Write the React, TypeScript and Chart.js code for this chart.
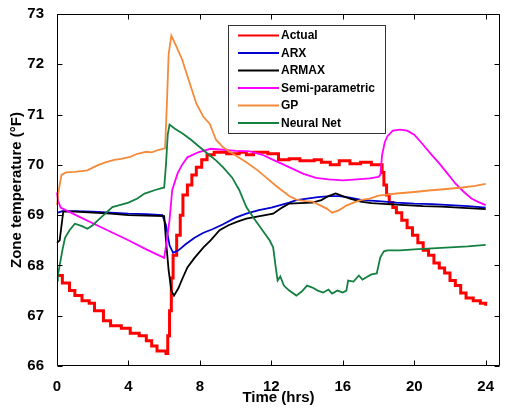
import React, { useEffect, useRef } from "react";
import { Chart, registerables } from "chart.js";

Chart.register(...registerables);

// Time axis (hours) and zone temperature (°F) for each model
const actualT = [0, 0.3, 0.7, 1.0, 1.4, 1.8, 2.1, 2.6, 3.0, 3.6, 4.1, 4.6, 5.0, 5.3, 5.6, 6.1, 6.2, 6.3, 6.4, 6.5, 6.7, 6.9, 7.05, 7.3, 7.55, 7.8, 8.1, 8.4, 8.8, 9.5, 10.2, 10.6, 11.0, 11.8, 12.4, 13.0, 13.6, 14.4, 14.8, 15.3, 15.8, 16.4, 17.0, 17.6, 18.2, 18.3, 18.45, 18.6, 18.8, 19.0, 19.3, 19.6, 19.9, 20.2, 20.5, 20.8, 21.1, 21.4, 21.7, 22.0, 22.3, 22.6, 22.9, 23.3, 23.7, 24.0];
const actualV = [67.8, 67.65, 67.5, 67.4, 67.3, 67.25, 67.1, 66.9, 66.8, 66.75, 66.65, 66.6, 66.5, 66.4, 66.3, 66.25, 66.6, 67.1, 67.75, 68.2, 68.6, 69.0, 69.4, 69.6, 69.8, 69.95, 70.1, 70.2, 70.25, 70.22, 70.25, 70.2, 70.25, 70.22, 70.1, 70.12, 70.08, 70.1, 70.05, 70.0, 70.08, 70.02, 70.05, 70.0, 69.85, 69.6, 69.4, 69.25, 69.15, 69.05, 68.9, 68.75, 68.6, 68.45, 68.3, 68.2, 68.05, 67.95, 67.85, 67.7, 67.6, 67.45, 67.35, 67.3, 67.25, 67.2];

const arxT = [0.05, 0.3, 1, 2, 3, 4, 5, 5.9, 6.1, 6.3, 6.5, 6.8, 7.2, 7.7, 8.2, 8.7, 9.3, 10.0, 10.6, 11.3, 12.0, 12.5, 13.0, 13.4, 14.0, 14.6, 15.3, 15.8, 16.4, 17.1, 18.0, 19.0, 20.0, 21.0, 22.0, 23.0, 24.0];
const arxV = [69.05, 69.08, 69.08, 69.07, 69.05, 69.03, 69.02, 69.0, 68.8, 68.4, 68.25, 68.3, 68.42, 68.55, 68.65, 68.72, 68.82, 68.95, 69.03, 69.1, 69.15, 69.2, 69.25, 69.3, 69.33, 69.36, 69.38, 69.38, 69.35, 69.3, 69.28, 69.25, 69.23, 69.22, 69.2, 69.18, 69.15];

const armaxT = [0, 0.15, 0.35, 1, 2, 3, 4, 5, 6.0, 6.1, 6.25, 6.4, 6.55, 6.8, 7.0, 7.3, 7.7, 8.2, 8.6, 9.1, 9.6, 10.1, 10.6, 11.2, 12.1, 12.6, 13.0, 13.6, 14.3, 14.8, 15.2, 15.6, 16.0, 16.4, 17.0, 17.6, 18.5, 19.5, 20.5, 21.5, 22.5, 23.5, 24.0];
const armaxV = [68.45, 68.5, 69.07, 69.07, 69.05, 69.03, 69.0, 68.99, 68.98, 68.5, 67.9, 67.5, 67.4, 67.55, 67.72, 67.96, 68.15, 68.36, 68.5, 68.7, 68.8, 68.87, 68.93, 68.97, 69.03, 69.15, 69.23, 69.24, 69.25, 69.3, 69.38, 69.43, 69.38, 69.33, 69.27, 69.24, 69.22, 69.2, 69.18, 69.17, 69.15, 69.13, 69.12];

const semiT = [0, 0.05, 0.2, 1, 2, 3, 4, 5, 6.0, 6.15, 6.3, 6.45, 6.75, 7.0, 7.3, 7.9, 8.6, 9.3, 10.0, 10.8, 11.5, 12.1, 12.6, 13.2, 13.8, 14.5, 15.2, 16.0, 16.8, 17.5, 18.0, 18.1, 18.2, 18.35, 18.5, 18.8, 19.2, 19.6, 20.0, 20.45, 20.9, 21.4, 21.85, 22.3, 22.75, 23.2, 23.6, 24.0];
const semiV = [69.45, 69.3, 69.15, 69.01, 68.84, 68.67, 68.5, 68.32, 68.15, 68.5, 68.9, 69.5, 69.83, 70.0, 70.15, 70.25, 70.32, 70.3, 70.28, 70.27, 70.2, 70.1, 70.02, 69.92, 69.82, 69.74, 69.71, 69.69, 69.71, 69.73, 69.76, 69.8, 70.2, 70.45, 70.57, 70.68, 70.7, 70.68, 70.6, 70.42, 70.23, 70.03, 69.83, 69.63, 69.47, 69.33, 69.26, 69.2];

const gpT = [0, 0.1, 0.25, 0.5, 1.0, 1.7, 2.2, 2.7, 3.2, 3.6, 4.1, 4.5, 5.0, 5.3, 5.7, 6.05, 6.15, 6.25, 6.4, 6.7, 7.0, 7.25, 7.5, 7.8, 8.2, 8.55, 8.9, 9.3, 9.85, 10.6, 11.2, 11.7, 12.2, 12.6, 13.0, 13.4, 13.9, 14.3, 14.7, 15.1, 15.4, 15.8, 16.2, 16.6, 17.0, 17.5, 18.0, 18.5, 19.0, 20.0, 20.8, 21.8, 22.7, 23.4, 24.0];
const gpV = [69.2, 69.5, 69.8, 69.85, 69.86, 69.89, 69.98, 70.05, 70.1, 70.12, 70.16, 70.22, 70.26, 70.25, 70.3, 70.33, 71.2, 72.2, 72.57, 72.34, 72.1, 71.82, 71.55, 71.22, 70.95, 70.82, 70.5, 70.35, 70.22, 70.05, 69.9, 69.75, 69.6, 69.49, 69.38, 69.31, 69.28, 69.27, 69.2, 69.13, 69.05, 69.1, 69.19, 69.25, 69.3, 69.33, 69.39, 69.41, 69.43, 69.46, 69.49, 69.52, 69.55, 69.58, 69.62];

const nnT = [0, 0.05, 0.15, 0.3, 0.45, 0.7, 1.0, 1.4, 1.7, 2.0, 2.3, 2.7, 3.1, 3.5, 4.0, 4.5, 4.9, 5.5, 6.0, 6.1, 6.2, 6.3, 6.6, 7.05, 7.5, 8.0, 8.5, 8.9, 9.3, 9.8, 10.2, 10.6, 11.0, 11.5, 11.9, 12.1, 12.25, 12.35, 12.5, 12.7, 13.0, 13.4, 13.7, 14.0, 14.3, 14.6, 14.9, 15.2, 15.4, 15.7, 16.0, 16.2, 16.3, 16.6, 16.9, 17.1, 17.3, 17.6, 17.9, 18.1, 18.3, 18.5, 19.2, 20.0, 21.0, 22.0, 23.0, 24.0];
const nnV = [67.7, 67.8, 68.0, 68.3, 68.55, 68.7, 68.83, 68.78, 68.73, 68.8, 68.9, 69.03, 69.16, 69.2, 69.25, 69.33, 69.43, 69.5, 69.55, 70.0, 70.6, 70.8, 70.72, 70.62, 70.5, 70.35, 70.2, 70.09, 69.95, 69.75, 69.5, 69.16, 68.95, 68.7, 68.5, 68.36, 67.95, 67.7, 67.78, 67.6, 67.5, 67.4, 67.48, 67.6, 67.56, 67.5, 67.46, 67.52, 67.44, 67.5, 67.46, 67.5, 67.7, 67.68, 67.8, 67.72, 67.76, 67.82, 67.84, 68.16, 68.28, 68.3, 68.3, 68.32, 68.34, 68.36, 68.38, 68.41];

const seriesLabels = ["Actual", "ARX", "ARMAX", "Semi-parametric", "GP", "Neural Net"];
const seriesColors = ["#ff0000", "#0000d0", "#000000", "#ff00ff", "#f58a3a", "#138040"];

const xTickValues = [0, 4, 8, 12, 16, 20, 24];
const yTickValues = [66, 67, 68, 69, 70, 71, 72, 73];

const FONT = "'Liberation Sans', Arial, Helvetica, sans-serif";

const toPoints = (t: number[], v: number[]) => t.map((x, i) => ({ x, y: v[i] }));

// Closed axes box with inward-pointing tick marks on all four sides
const framePlugin = {
  id: "frame",
  afterDatasetsDraw(chart: any) {
    const { ctx, chartArea, scales } = chart;
    const { left, right, top, bottom } = chartArea;
    const L = Math.round(left) + 0.5;
    const R = Math.round(right) - 0.5;
    const T = Math.round(top) + 0.5;
    const B = Math.round(bottom) - 0.5;
    ctx.save();
    ctx.strokeStyle = "#000";
    ctx.lineWidth = 1;
    ctx.beginPath();
    ctx.rect(L, T, R - L, B - T);
    const len = 5;
    xTickValues.forEach((v) => {
      const px = Math.round(scales.x.getPixelForValue(v)) + 0.5;
      ctx.moveTo(px, B);
      ctx.lineTo(px, B - len);
      ctx.moveTo(px, T);
      ctx.lineTo(px, T + len);
    });
    yTickValues.forEach((v) => {
      const py = Math.round(scales.y.getPixelForValue(v)) + 0.5;
      ctx.moveTo(L, py);
      ctx.lineTo(L + len, py);
      ctx.moveTo(R, py);
      ctx.lineTo(R - len, py);
    });
    ctx.stroke();
    ctx.restore();
  },
};

// Boxed legend placed inside the plot area
const boxLegendPlugin = {
  id: "boxLegend",
  afterDraw(chart: any) {
    const { ctx } = chart;
    const bx = 228.5;
    const by = 25.5;
    const bw = 157;
    const bh = 108;
    ctx.save();
    ctx.fillStyle = "#ffffff";
    ctx.fillRect(bx, by, bw, bh);
    ctx.strokeStyle = "#333";
    ctx.lineWidth = 1;
    ctx.strokeRect(bx, by, bw, bh);
    ctx.font = `bold 12px ${FONT}`;
    ctx.textBaseline = "middle";
    ctx.textAlign = "left";
    chart.data.datasets.forEach((ds: any, i: number) => {
      const yy = 35.5 + i * 17.5;
      ctx.strokeStyle = ds.borderColor;
      ctx.lineWidth = 2;
      ctx.beginPath();
      ctx.moveTo(238, yy);
      ctx.lineTo(279, yy);
      ctx.stroke();
      ctx.fillStyle = "#000";
      ctx.fillText(ds.label, 281, yy + 0.5);
    });
    ctx.restore();
  },
};

export default function App() {
  const canvasRef = useRef<HTMLCanvasElement | null>(null);

  useEffect(() => {
    if (!canvasRef.current) return;
    const allPoints = [
      toPoints(actualT, actualV),
      toPoints(arxT, arxV),
      toPoints(armaxT, armaxV),
      toPoints(semiT, semiV),
      toPoints(gpT, gpV),
      toPoints(nnT, nnV),
    ];
    // series are layered in plotting order: "Actual" at the bottom, "Neural Net" on top
    const datasets = allPoints.map((data, i) => ({
      label: seriesLabels[i],
      data,
      order: allPoints.length - i,
      borderColor: seriesColors[i],
      backgroundColor: seriesColors[i],
      borderWidth: i === 0 ? 3 : 1.8,
      stepped: i === 0 ? true : false,
      pointRadius: 0,
      tension: 0,
      fill: false,
      clip: false as any,
    }));
    const chart = new Chart(canvasRef.current, {
      type: "line",
      data: { datasets },
      plugins: [framePlugin, boxLegendPlugin],
      options: {
        animation: false,
        responsive: false,
        devicePixelRatio: 1,
        parsing: false as any,
        layout: { padding: { top: 13, right: 5, left: 0, bottom: 0 } },
        plugins: {
          legend: { display: false },
          tooltip: { enabled: false },
        },
        scales: {
          x: {
            type: "linear",
            min: 0,
            max: 24.8,
            afterFit: (scale: any) => {
              scale.height = 42;
            },
            afterBuildTicks: (scale: any) => {
              scale.ticks = xTickValues.map((value) => ({ value }));
            },
            ticks: {
              autoSkip: false,
              maxRotation: 0,
              includeBounds: false,
              padding: 4,
              color: "#000",
              font: { family: FONT, size: 15, weight: "bold" },
            },
            grid: { display: false },
            border: { display: false },
            title: {
              display: true,
              text: "Time (hrs)",
              color: "#000",
              padding: { top: 0, bottom: 1 },
              font: { family: FONT, size: 15, weight: "bold" },
            },
          },
          y: {
            type: "linear",
            min: 66,
            max: 73,
            afterFit: (scale: any) => {
              scale.width = 57;
            },
            afterBuildTicks: (scale: any) => {
              scale.ticks = yTickValues.map((value) => ({ value }));
            },
            ticks: {
              autoSkip: false,
              includeBounds: false,
              padding: 5,
              color: "#000",
              font: { family: FONT, size: 15, weight: "bold" },
            },
            grid: { display: false },
            border: { display: false },
            title: {
              display: true,
              text: "Zone temperature (°F)",
              color: "#000",
              padding: { top: 8, bottom: 0 },
              font: { family: FONT, size: 15, weight: "bold" },
            },
          },
        },
      },
    });
    return () => chart.destroy();
  }, []);

  return (
    <div style={{ position: "fixed", left: 0, top: 0, width: 505, height: 408, background: "#fff" }}>
      <canvas ref={canvasRef} width={505} height={408} style={{ display: "block", width: 505, height: 408 }} />
    </div>
  );
}
